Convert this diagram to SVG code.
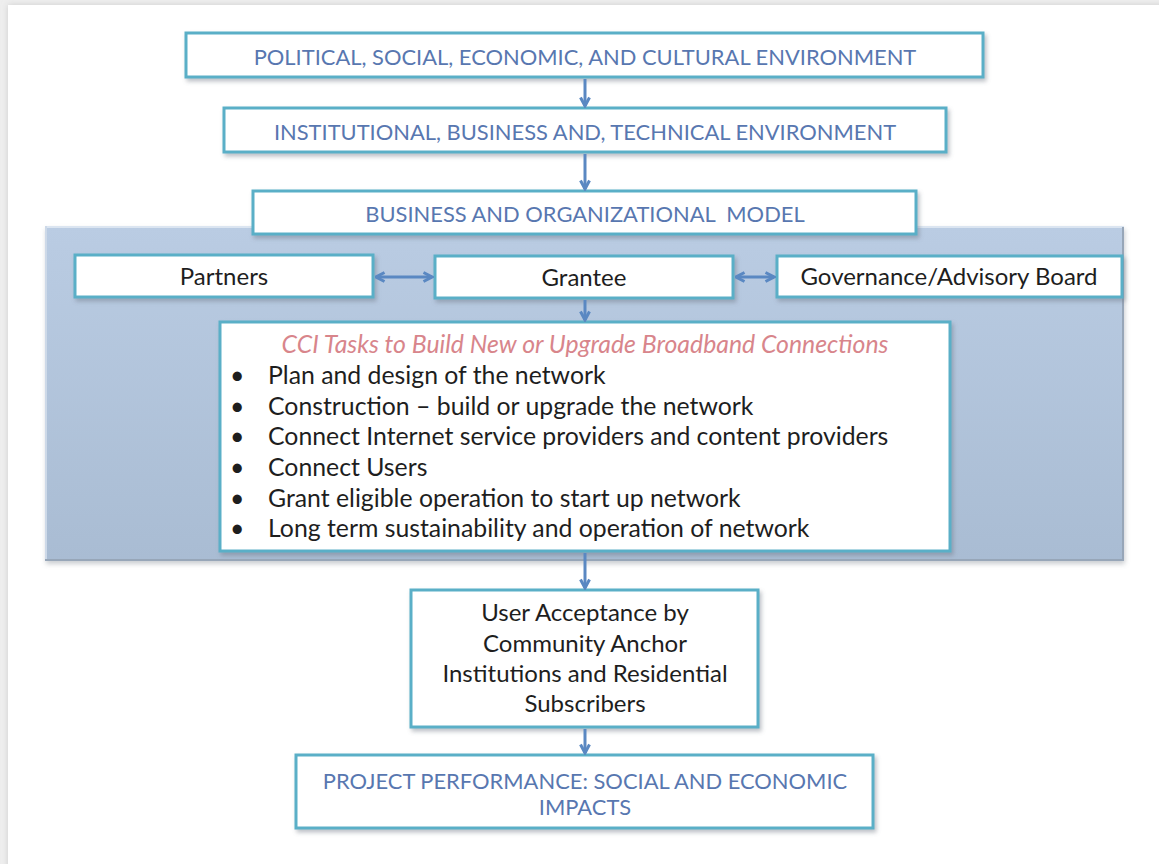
<svg xmlns="http://www.w3.org/2000/svg" width="1159" height="864" viewBox="0 0 1159 864">
  <defs>
    <style>
      .box { fill: #ffffff; stroke: #5aafc7; stroke-width: 3; filter: url(#shadow); }
      .title { font-family: Lato, "Open Sans", sans-serif; font-size: 21.9px; fill: #5877b0; text-anchor: middle; }
      .label { font-family: Lato, "Open Sans", sans-serif; font-size: 24px; fill: #1e1e1e; text-anchor: middle; }
      .body { font-family: Lato, "Open Sans", sans-serif; font-size: 24.8px; fill: #1e1e1e; }
      .head { font-family: Lato, "Open Sans", sans-serif; font-size: 24.8px; font-style: italic; fill: #d8858b; text-anchor: middle; }
      .conn { fill: none; stroke: #5a88c2; stroke-width: 3; }
    </style>
    <filter id="shadow" x="-5%" y="-20%" width="110%" height="150%">
      <feDropShadow dx="2" dy="3" stdDeviation="2" flood-color="#6b7480" flood-opacity="0.45"/>
    </filter>
    <filter id="panelShadow" x="-5%" y="-5%" width="110%" height="112%">
      <feDropShadow dx="1" dy="3" stdDeviation="2.5" flood-color="#7a828c" flood-opacity="0.4"/>
    </filter>
    <filter id="pageShadow" x="-2%" y="-2%" width="104%" height="104%">
      <feDropShadow dx="0" dy="0" stdDeviation="3" flood-color="#b8b8b8" flood-opacity="0.6"/>
    </filter>
    <linearGradient id="panelFill" x1="0" y1="0" x2="0" y2="1">
      <stop offset="0" stop-color="#bacce3"/>
      <stop offset="1" stop-color="#a9bcd3"/>
    </linearGradient>
    <marker id="arrowEnd" viewBox="0 0 12 12" refX="10.5" refY="6" markerWidth="12" markerHeight="12" markerUnits="userSpaceOnUse" orient="auto">
      <path d="M2,1.5 L10.5,6 L2,10.5" fill="none" stroke="#5a88c2" stroke-width="3" stroke-linejoin="miter"/>
    </marker>
    <marker id="arrowStart" viewBox="0 0 12 12" refX="1.5" refY="6" markerWidth="12" markerHeight="12" markerUnits="userSpaceOnUse" orient="auto">
      <path d="M10,1.5 L1.5,6 L10,10.5" fill="none" stroke="#5a88c2" stroke-width="3" stroke-linejoin="miter"/>
    </marker>
  </defs>

  <!-- page -->
  <rect x="0" y="0" width="1159" height="864" fill="#eeeeee"/>
  <rect x="8" y="5" width="1160" height="870" fill="#ffffff" filter="url(#pageShadow)"/>

  <!-- shaded panel holding the organisational model -->
  <g id="model-panel">
    <rect x="45" y="226" width="1079" height="335" fill="url(#panelFill)" filter="url(#panelShadow)"/>
    <line x1="45" y1="227" x2="1124" y2="227" stroke="#dbe5f1" stroke-width="2"/>
    <line x1="46" y1="226" x2="46" y2="561" stroke="#cdd9e8" stroke-width="2"/>
    <line x1="1123" y1="227" x2="1123" y2="561" stroke="#97a6b8" stroke-width="2"/>
    <line x1="45" y1="560" x2="1124" y2="560" stroke="#97a6b8" stroke-width="2"/>
  </g>

  <g id="political-environment">
    <rect class="box" x="186" y="33" width="797" height="44"/>
    <text class="title" x="585" y="65">POLITICAL, SOCIAL, ECONOMIC, AND CULTURAL ENVIRONMENT</text>
  </g>

  <g id="institutional-environment">
    <rect class="box" x="224" y="108" width="722" height="44"/>
    <text class="title" x="585" y="140">INSTITUTIONAL, BUSINESS AND, TECHNICAL ENVIRONMENT</text>
  </g>

  <g id="business-model">
    <rect class="box" x="253" y="191" width="663" height="43"/>
    <text class="title" x="585" y="222" xml:space="preserve">BUSINESS AND ORGANIZATIONAL  MODEL</text>
  </g>

  <g id="partners">
    <rect class="box" x="75" y="255" width="298" height="42"/>
    <text class="label" x="224" y="285">Partners</text>
  </g>

  <g id="grantee">
    <rect class="box" x="435" y="256" width="298" height="42"/>
    <text class="label" x="584" y="286">Grantee</text>
  </g>

  <g id="governance">
    <rect class="box" x="777" y="256" width="345" height="41"/>
    <text class="label" x="949" y="285">Governance/Advisory Board</text>
  </g>

  <g id="cci-tasks">
    <rect class="box" x="220" y="322" width="730" height="229"/>
    <text class="head" x="585" y="353">CCI Tasks to Build New or Upgrade Broadband Connections</text>
    <g class="body">
      <text x="230" y="384">•</text><text x="268" y="384">Plan and design of the network</text>
      <text x="230" y="415">•</text><text x="268" y="415">Construction – build or upgrade the network</text>
      <text x="230" y="445">•</text><text x="268" y="445">Connect Internet service providers and content providers</text>
      <text x="230" y="476">•</text><text x="268" y="476">Connect Users</text>
      <text x="230" y="507">•</text><text x="268" y="507">Grant eligible operation to start up network</text>
      <text x="230" y="537">•</text><text x="268" y="537">Long term sustainability and operation of network</text>
    </g>
  </g>

  <g id="user-acceptance">
    <rect class="box" x="411" y="590" width="347" height="137"/>
    <text class="label" x="585" y="621">User Acceptance by</text>
    <text class="label" x="585" y="652">Community Anchor</text>
    <text class="label" x="585" y="682">Institutions and Residential</text>
    <text class="label" x="585" y="712">Subscribers</text>
  </g>

  <g id="project-performance">
    <rect class="box" x="296" y="755" width="577" height="73"/>
    <text class="title" x="585" y="789">PROJECT PERFORMANCE: SOCIAL AND ECONOMIC</text>
    <text class="title" x="585" y="815">IMPACTS</text>
  </g>

  <g id="connectors">
    <line class="conn" x1="585" y1="79" x2="585" y2="106" marker-end="url(#arrowEnd)"/>
    <line class="conn" x1="585" y1="154" x2="585" y2="189" marker-end="url(#arrowEnd)"/>
    <line class="conn" x1="585" y1="300" x2="585" y2="320" marker-end="url(#arrowEnd)"/>
    <line class="conn" x1="585" y1="553" x2="585" y2="588" marker-end="url(#arrowEnd)"/>
    <line class="conn" x1="585" y1="729" x2="585" y2="753" marker-end="url(#arrowEnd)"/>
    <line class="conn" x1="376" y1="277" x2="432" y2="277" marker-start="url(#arrowStart)" marker-end="url(#arrowEnd)"/>
    <line class="conn" x1="736" y1="277" x2="774" y2="277" marker-start="url(#arrowStart)" marker-end="url(#arrowEnd)"/>
  </g>
</svg>
